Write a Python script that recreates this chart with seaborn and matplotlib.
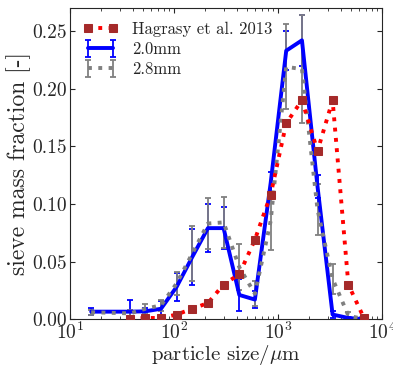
import numpy as np
import pandas as pd
import seaborn as sns
import matplotlib.pyplot as plt

# -----------------------------
# Data
# -----------------------------
size_um = [16, 38, 53, 75, 106, 150, 212, 300, 425, 600, 850, 1200, 1700, 2400, 3350, 4750, 6700]

frac_20mm = [0.0065, 0.0065, 0.0068, 0.009, 0.028, 0.054, 0.079, 0.079, 0.021, 0.017,
             0.118, 0.233, 0.242, 0.115, 0.004, 0.001, 0.0]
err_20mm = [0.003, 0.010, 0.003, 0.007, 0.012, 0.024, 0.021, 0.018, 0.014, 0.007,
            0.010, 0.017, 0.022, 0.010, 0.003, 0.001, 0.0]

frac_28mm = [0.006, 0.005, 0.009, 0.012, 0.031, 0.057, 0.083, 0.084, 0.045, 0.022,
             0.085, 0.219, 0.217, 0.095, 0.035, 0.003, 0.0]
err_28mm = [0.002, 0.003, 0.004, 0.005, 0.010, 0.024, 0.022, 0.022, 0.020, 0.011,
            0.025, 0.037, 0.047, 0.022, 0.013, 0.003, 0.0]

hag_size = [38, 53, 75, 106, 150, 212, 300, 425, 600, 850, 1200, 1700, 2400, 3350, 4750, 6700]
hag_frac = [0.0005, 0.001, 0.001, 0.004, 0.009, 0.014, 0.030, 0.039, 0.069, 0.108,
            0.170, 0.190, 0.146, 0.190, 0.030, 0.001]

# -----------------------------
# Style
# -----------------------------
sns.set_style("ticks")
plt.rcParams["font.family"] = ["cmr10", "DejaVu Serif"]
plt.rcParams["mathtext.fontset"] = "cm"
plt.rcParams["axes.formatter.use_mathtext"] = True
plt.rcParams["xtick.direction"] = "in"
plt.rcParams["ytick.direction"] = "in"
plt.rcParams["xtick.top"] = True
plt.rcParams["ytick.right"] = True

fig = plt.figure(figsize=(3.93, 3.66), dpi=100)
ax = fig.add_axes([0.178, 0.128, 0.794, 0.850])

h_blue = ax.errorbar(size_um, frac_20mm, yerr=err_20mm, color="blue", lw=2.8,
                     elinewidth=1.3, capsize=2.5, capthick=1.3, label="2.0mm")
h_grey = ax.errorbar(size_um, frac_28mm, yerr=err_28mm, color="grey", lw=2.8, ls=":",
                     elinewidth=1.3, capsize=2.5, capthick=1.3, label="2.8mm")

hag = pd.DataFrame({"size": hag_size, "frac": hag_frac})
sns.lineplot(data=hag, x="size", y="frac", ax=ax, color="red", lw=2.8, ls=":",
             marker="s", markersize=5.5, markerfacecolor="brown", markeredgecolor="brown",
             label="Hagrasy et al. 2013", zorder=3)
h_red = ax.get_lines()[-1]

ax.set_xscale("log")
ax.set_xlim(10, 1e4)
ax.set_ylim(0, 0.27)
ax.set_yticks([0.0, 0.05, 0.10, 0.15, 0.20, 0.25])
ax.set_yticklabels(["0.00", "0.05", "0.10", "0.15", "0.20", "0.25"])
ax.tick_params(labelsize=14, pad=2)
ax.tick_params(which="both", top=True, right=True, direction="in")

ax.set_xlabel(r"particle size/$\mu$m", fontsize=15, labelpad=0)
ax.set_ylabel("sieve mass fraction [-]", fontsize=17, labelpad=1)

ax.legend([h_red, h_blue, h_grey], ["Hagrasy et al. 2013", "2.0mm", "2.8mm"],
          loc="upper left", frameon=False, fontsize=12, handlelength=2.1,
          handletextpad=0.85, numpoints=2, borderaxespad=0.4, labelspacing=0.3)

plt.savefig("out.png", dpi=100)
plt.close()
